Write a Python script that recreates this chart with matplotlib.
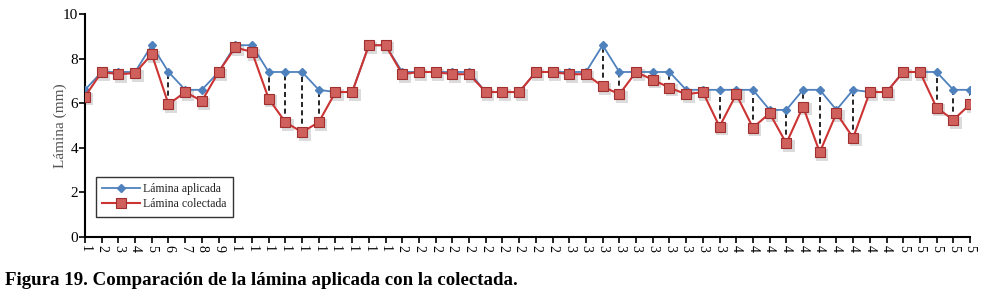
# comparacion de lamina aplicada vs colectada
import numpy as np
import matplotlib.pyplot as plt

plt.rcParams['font.family'] = ['Liberation Serif', 'DejaVu Serif']

puntos = list(range(1, 55))
aplicada = [6.6, 7.4, 7.4, 7.4, 8.6, 7.4, 6.6, 6.6, 7.4, 8.6,
            8.6, 7.4, 7.4, 7.4, 6.6, 6.5, 6.5, 8.6, 8.6, 7.4,
            7.4, 7.4, 7.4, 7.4, 6.5, 6.5, 6.5, 7.4, 7.4, 7.4,
            7.4, 8.6, 7.4, 7.4, 7.4, 7.4, 6.6, 6.6, 6.6, 6.6,
            6.6, 5.7, 5.7, 6.6, 6.6, 5.7, 6.6, 6.5, 6.5, 7.4,
            7.4, 7.4, 6.6, 6.6]
colectada = [6.3, 7.4, 7.3, 7.35, 8.2, 5.95, 6.5, 6.1, 7.4, 8.5,
             8.3, 6.2, 5.15, 4.7, 5.15, 6.5, 6.5, 8.6, 8.6, 7.3,
             7.4, 7.4, 7.3, 7.3, 6.5, 6.5, 6.5, 7.4, 7.4, 7.3,
             7.3, 6.75, 6.4, 7.4, 7.05, 6.7, 6.4, 6.5, 4.95, 6.4,
             4.9, 5.55, 4.2, 5.85, 3.8, 5.55, 4.45, 6.5, 6.5, 7.4,
             7.4, 5.8, 5.25, 5.95]
etiquetas = [str(p)[0] for p in puntos]

azul = '#4F81BD'
rojo = '#C0504D'

fig = plt.figure(figsize=(9.86, 3.0), dpi=100)
ax = fig.add_axes([0.0862, 0.21, 0.8976, 0.7433])

x = np.array(puntos)
# lineas alta-baja punteadas
ax.vlines(x, colectada, aplicada, colors='black', linestyles=(0, (3, 2)), linewidth=1.2, zorder=2)

# sombra de los marcadores
ax.plot(x + 0.15, np.array(colectada) - 0.12, 's', color='#999999', markersize=8,
        alpha=0.35, markeredgewidth=0, zorder=1)

ax.plot(x, aplicada, color=azul, linewidth=1.3, marker='D', markersize=4.5,
        markerfacecolor=azul, markeredgecolor=azul, label='Lámina aplicada', zorder=3)
ax.plot(x, colectada, color='#CC3333', linewidth=1.5, marker='s', markersize=7.5,
        markerfacecolor='#D0605C', markeredgecolor='#A03030', markeredgewidth=0.8,
        label='Lámina colectada', zorder=4)

ax.set_xlim(1, 54)
ax.set_ylim(0, 10)
ax.set_yticks([0, 2, 4, 6, 8, 10])
ax.set_xticks(puntos)
ax.set_xticklabels(etiquetas, rotation=270, fontsize=10)
ax.tick_params(axis='y', labelsize=11, length=4, width=1.2, pad=1)
ax.tick_params(axis='x', length=4, width=1.2, pad=2)
for s in ['top', 'right']:
    ax.spines[s].set_visible(False)
for s in ['left', 'bottom']:
    ax.spines[s].set_linewidth(1.5)
ax.set_ylabel('Lámina (mm)', fontsize=11, color='#555555', labelpad=-3)

leg = ax.legend(loc='lower left', bbox_to_anchor=(0.012, 0.09), fontsize=8.5,
                frameon=True, fancybox=False, edgecolor='black', borderpad=0.55,
                borderaxespad=0, handlelength=3.2, handletextpad=0.3, labelspacing=0.25)
leg.get_frame().set_linewidth(1.0)
for t in leg.get_texts():
    t.set_color('#222222')

fig.text(0.005, 0.05, 'Figura 19. Comparación de la lámina aplicada con la colectada.',
         fontsize=13.6, fontweight='bold')

plt.savefig('out.png', dpi=100)
